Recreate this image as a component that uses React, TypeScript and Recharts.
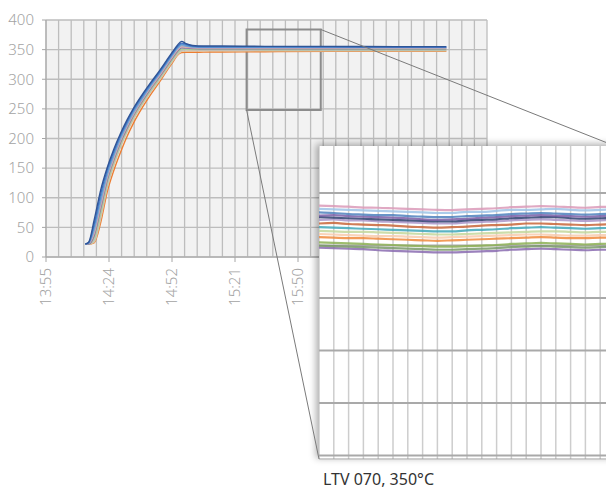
import React from 'react';
import { LineChart, Line, XAxis, YAxis, CartesianGrid, ReferenceArea, ReferenceLine } from 'recharts';

// ---------- Main chart data ----------
const timeLabels = ['13:55', '14:24', '14:52', '15:21', '15:50', '16:19', '16:47', '17:16'];
const majorTicks = [0, 28.8, 57.6, 86.4, 115.2, 144, 172.8, 201.6];
const minorTicks = Array.from({ length: 36 }, (_, i) => Math.round(i * 5.76 * 100) / 100);
const yTicks = [0, 50, 100, 150, 200, 250, 300, 350, 400];

// minutes since 13:55
const sampleTimes = [18, 19.5, 22, 25, 28, 31, 34, 37, 40, 44, 48, 52, 55, 58, 60, 62, 64, 67, 72, 80, 100, 130, 160, 183];

const s1 = [22, 25, 62, 113, 151, 182, 208, 231, 251, 274, 295, 315, 331, 347, 357, 364, 360, 357, 356, 356, 355.5, 355.5, 355, 355];
const s2 = [22, 24, 55, 106, 147, 178, 205, 228, 249, 272, 293, 313, 329, 345, 355, 361, 359, 356, 355, 355, 355, 354.8, 354.5, 354.5];
const s3 = [22, 24, 50, 99, 142, 174, 202, 225, 246, 269, 291, 311, 327, 343, 353, 359, 357, 355, 354, 354, 354, 354, 353.8, 353.8];
const s4 = [22, 23, 44, 92, 137, 170, 198, 222, 243, 267, 289, 309, 325, 341, 351, 357, 355.5, 354, 353.5, 353.5, 353.5, 353.3, 353, 353];
const s5 = [22, 23, 40, 87, 134, 167, 196, 220, 241, 265, 287, 307, 323, 339, 349, 355, 354, 353, 352.5, 352.5, 352.5, 352.5, 352.2, 352.2];
const s6 = [22, 22, 36, 82, 130, 164, 193, 217, 239, 263, 285, 305, 321, 337, 347, 353, 352.5, 352, 351.5, 351.5, 351.5, 351.5, 351.3, 351.3];
const s7 = [22, 22, 32, 76, 126, 161, 190, 215, 237, 261, 283, 303, 319, 335, 345, 351, 351, 350.5, 350.5, 350.5, 350.3, 350.3, 350, 350];
const s8 = [22, 22, 28, 71, 121, 158, 187, 213, 235, 259, 281, 301, 317, 333, 343, 349, 349.5, 349.5, 349.3, 349.3, 349.2, 349, 349, 349];
const s9 = [22, 22, 25, 65, 117, 154, 185, 210, 232, 257, 279, 299, 315, 331, 341, 347, 347.5, 348, 348, 348, 348, 348, 348, 348];
const s10 = [22, 22, 24, 58, 110, 146, 176, 203, 226, 252, 275, 296, 313, 329, 340, 345, 345.5, 345.5, 345.8, 346, 346.5, 347, 347, 347];

const mainSeries = [
  { key: 's10', color: '#ED7D31', values: s10 },
  { key: 's9', color: '#D9C7A3', values: s9 },
  { key: 's8', color: '#BDBDBD', values: s8 },
  { key: 's7', color: '#A9D18E', values: s7 },
  { key: 's6', color: '#8774A8', values: s6 },
  { key: 's5', color: '#E3AAAA', values: s5 },
  { key: 's4', color: '#8EA9C8', values: s4 },
  { key: 's3', color: '#5B9BD5', values: s3 },
  { key: 's2', color: '#4472C4', values: s2 },
  { key: 's1', color: '#2F5597', values: s1 },
];

const mainData = sampleTimes.map((t, i) => {
  const row: any = { t };
  mainSeries.forEach((s) => (row[s.key] = s.values[i]));
  return row;
});

// zoom window (data units of main chart)
const zoomBox = { t1: 91.7, t2: 125.6, v1: 248, v2: 384 };

// ---------- Inset data ----------
const insetX = Array.from({ length: 21 }, (_, i) => i);
const insetYTicks = [330, 335, 340, 345, 350, 355];

const i1 = [353.8, 353.75, 353.7, 353.62, 353.6, 353.55, 353.5, 353.45, 353.4, 353.38, 353.45, 353.5, 353.55, 353.65, 353.7, 353.75, 353.72, 353.65, 353.6, 353.68, 353.7];
const i2 = [353.5, 353.45, 353.4, 353.35, 353.3, 353.25, 353.2, 353.15, 353.1, 353.1, 353.2, 353.2, 353.3, 353.4, 353.4, 353.45, 353.5, 353.4, 353.35, 353.4, 353.45];
const i3 = [353.15, 353.1, 353.0, 352.95, 352.9, 352.9, 352.8, 352.75, 352.7, 352.72, 352.8, 352.85, 352.9, 353.0, 353.05, 353.1, 353.05, 353.0, 352.95, 353.0, 353.05];
const i4 = [352.85, 352.9, 352.8, 352.75, 352.7, 352.65, 352.6, 352.5, 352.45, 352.5, 352.55, 352.65, 352.7, 352.8, 352.85, 352.9, 352.85, 352.8, 352.75, 352.8, 352.85];
const i5 = [352.7, 352.65, 352.6, 352.55, 352.5, 352.45, 352.4, 352.35, 352.3, 352.3, 352.4, 352.45, 352.5, 352.6, 352.65, 352.7, 352.7, 352.6, 352.55, 352.6, 352.65];
const i6 = [352.45, 352.5, 352.4, 352.4, 352.3, 352.25, 352.2, 352.15, 352.1, 352.1, 352.2, 352.25, 352.3, 352.4, 352.45, 352.5, 352.45, 352.4, 352.35, 352.4, 352.45];
const i7 = [352.1, 352.15, 352.05, 352.0, 351.95, 351.9, 351.8, 351.75, 351.7, 351.75, 351.8, 351.9, 351.95, 352.0, 352.1, 352.1, 352.05, 352.0, 351.95, 352.0, 352.05];
const i8 = [351.75, 351.7, 351.65, 351.6, 351.55, 351.5, 351.45, 351.4, 351.35, 351.35, 351.45, 351.5, 351.55, 351.65, 351.7, 351.75, 351.7, 351.65, 351.6, 351.65, 351.7];
const i9 = [351.4, 351.35, 351.3, 351.3, 351.25, 351.2, 351.15, 351.1, 351.05, 351.05, 351.1, 351.15, 351.2, 351.25, 351.3, 351.35, 351.35, 351.3, 351.25, 351.3, 351.3];
const i10 = [351.1, 351.05, 351.0, 350.95, 350.9, 350.9, 350.85, 350.8, 350.75, 350.8, 350.85, 350.9, 350.95, 351.0, 351.05, 351.05, 351.0, 350.95, 350.95, 351.0, 351.0];
const i11 = [350.8, 350.75, 350.7, 350.7, 350.65, 350.6, 350.55, 350.5, 350.45, 350.5, 350.55, 350.6, 350.65, 350.7, 350.75, 350.8, 350.75, 350.7, 350.7, 350.75, 350.75];
const i12 = [350.3, 350.25, 350.2, 350.15, 350.1, 350.05, 350.0, 349.95, 349.9, 349.9, 349.95, 350.0, 350.05, 350.15, 350.2, 350.25, 350.2, 350.15, 350.1, 350.15, 350.2];
const i13 = [350.0, 349.95, 349.9, 349.85, 349.8, 349.75, 349.7, 349.65, 349.6, 349.6, 349.65, 349.7, 349.75, 349.85, 349.9, 349.95, 349.9, 349.85, 349.8, 349.85, 349.9];
const i14 = [349.8, 349.75, 349.7, 349.65, 349.55, 349.5, 349.45, 349.4, 349.35, 349.35, 349.4, 349.45, 349.5, 349.6, 349.65, 349.7, 349.65, 349.6, 349.55, 349.6, 349.6];

const insetSeries = [
  { key: 'i14', color: '#8A6BB0', values: i14 },
  { key: 'i13', color: '#7A9A6A', values: i13 },
  { key: 'i12', color: '#8DB255', values: i12 },
  { key: 'i11', color: '#F08A3C', values: i11 },
  { key: 'i10', color: '#F8CBAD', values: i10 },
  { key: 'i9', color: '#C4D79B', values: i9 },
  { key: 'i8', color: '#3FA7B8', values: i8 },
  { key: 'i7', color: '#C8663A', values: i7 },
  { key: 'i6', color: '#A995C9', values: i6 },
  { key: 'i5', color: '#2E3F70', values: i5 },
  { key: 'i4', color: '#7B5EA7', values: i4 },
  { key: 'i3', color: '#4F81BD', values: i3 },
  { key: 'i2', color: '#9DC3E6', values: i2 },
  { key: 'i1', color: '#DB9AB8', values: i1 },
];

const insetData = insetX.map((x, i) => {
  const row: any = { x };
  insetSeries.forEach((s) => (row[s.key] = s.values[i]));
  return row;
});

const caption = 'LTV 070, 350°C';

// ---------- Layout ----------
const MAIN = { left: 46, top: 20, plotW: 441, plotH: 237, right: 23, bottom: 73 };
const X_DOMAIN: [number, number] = [0, 201.6];
const Y_DOMAIN: [number, number] = [0, 400];
const INSET = { left: 319, top: 146, plotW: 296, plotH: 313 };
const INSET_X_DOMAIN: [number, number] = [0, 20];
const INSET_Y_DOMAIN: [number, number] = [329.67, 359.48];

const mainPx = (t: number) => MAIN.left + ((t - X_DOMAIN[0]) / (X_DOMAIN[1] - X_DOMAIN[0])) * MAIN.plotW;
const mainPy = (v: number) => MAIN.top + ((Y_DOMAIN[1] - v) / (Y_DOMAIN[1] - Y_DOMAIN[0])) * MAIN.plotH;

const FONT = '"Noto Sans", "Open Sans", sans-serif';
const LABEL = '#a3a3a3';

const XTick = (props: any) => {
  const { x, y, payload } = props;
  const idx = majorTicks.indexOf(payload.value);
  const label = idx >= 0 ? timeLabels[idx] : '';
  return (
    <text
      x={x}
      y={y}
      transform={`rotate(-90, ${x}, ${y})`}
      textAnchor="end"
      dy="0.35em"
      fill={LABEL}
      fontSize={15}
      fontFamily={FONT}
      fontWeight={300}
    >
      {label}
    </text>
  );
};

export default function App() {
  const topFrom = { x: mainPx(zoomBox.t2), y: mainPy(zoomBox.v2) };
  const botFrom = { x: mainPx(zoomBox.t1), y: mainPy(zoomBox.v1) };
  const topTo = { x: INSET.left + INSET.plotW, y: INSET.top };
  const botTo = { x: INSET.left, y: INSET.top + INSET.plotH };

  return (
    <div
      style={{
        position: 'fixed',
        left: 0,
        top: 0,
        width: 606,
        height: 491,
        overflow: 'hidden',
        background: '#ffffff',
      }}
    >
      <div style={{ position: 'absolute', left: 0, top: 0 }}>
        <LineChart
          width={MAIN.left + MAIN.plotW + MAIN.right}
          height={MAIN.top + MAIN.plotH + MAIN.bottom}
          data={mainData}
          margin={{ top: MAIN.top, right: MAIN.right, left: 0, bottom: 13 }}
        >
          <CartesianGrid
            fill="#f2f2f2"
            stroke="#bdbdbd"
            strokeWidth={1.3}
            verticalValues={minorTicks}
            horizontalValues={yTicks}
          />
          <XAxis
            type="number"
            dataKey="t"
            domain={X_DOMAIN}
            ticks={majorTicks}
            interval={0}
            allowDataOverflow
            height={60}
            tickSize={5}
            tickMargin={6}
            stroke="#a6a6a6"
            tick={(p: any) => <XTick {...p} />}
          />
          <YAxis
            type="number"
            domain={Y_DOMAIN}
            ticks={yTicks}
            interval={0}
            width={MAIN.left}
            tickSize={4}
            tickMargin={8}
            stroke="#a6a6a6"
            tick={{ fill: LABEL, fontSize: 15, fontFamily: FONT, fontWeight: 300 }}
          />
          {mainSeries.map((s) => (
            <Line
              key={s.key}
              dataKey={s.key}
              type="monotone"
              stroke={s.color}
              strokeWidth={1.4}
              dot={false}
              isAnimationActive={false}
            />
          ))}
          <ReferenceArea
            x1={zoomBox.t1}
            x2={zoomBox.t2}
            y1={zoomBox.v1}
            y2={zoomBox.v2}
            fill="none"
            fillOpacity={0}
            stroke="#8c8c8c"
            strokeWidth={2}
          />
        </LineChart>
      </div>

      <div
        style={{
          position: 'absolute',
          left: INSET.left,
          top: INSET.top,
          width: INSET.plotW,
          height: INSET.plotH + 1,
          background: '#ffffff',
          boxShadow: '-3px -2px 7px rgba(0,0,0,0.32)',
        }}
      >
        <LineChart
          width={INSET.plotW}
          height={INSET.plotH + 1}
          data={insetData}
          margin={{ top: 0, right: 0, left: 0, bottom: 0 }}
        >
          <XAxis
            type="number"
            dataKey="x"
            domain={INSET_X_DOMAIN}
            ticks={insetX}
            interval={0}
            tick={false}
            tickLine={false}
            height={1}
            stroke="#9a9a9a"
          />
          <YAxis type="number" domain={INSET_Y_DOMAIN} ticks={insetYTicks} allowDataOverflow hide />
          {insetX.map((x) => (
            <ReferenceLine key={`vx${x}`} x={x} stroke="#cdcdcd" strokeWidth={1.5} />
          ))}
          {insetYTicks.map((v) => (
            <ReferenceLine key={`hy${v}`} y={v} stroke="#a9a9a9" strokeWidth={2} />
          ))}
          {insetSeries.map((s) => (
            <Line
              key={s.key}
              dataKey={s.key}
              type="monotone"
              stroke={s.color}
              strokeWidth={2.2}
              strokeOpacity={0.85}
              dot={false}
              isAnimationActive={false}
            />
          ))}
        </LineChart>
      </div>

      <svg
        width={606}
        height={491}
        style={{ position: 'absolute', left: 0, top: 0, pointerEvents: 'none' }}
      >
        <line x1={topFrom.x} y1={topFrom.y} x2={topTo.x} y2={topTo.y} stroke="#7a7a7a" strokeWidth={1} />
        <line x1={botFrom.x} y1={botFrom.y} x2={botTo.x} y2={botTo.y} stroke="#7a7a7a" strokeWidth={1} />
      </svg>

      <div
        style={{
          position: 'absolute',
          left: 323,
          top: 470,
          fontFamily: FONT,
          fontSize: 16,
          lineHeight: '18px',
          color: '#333333',
          whiteSpace: 'nowrap',
        }}
      >
        {caption}
      </div>
    </div>
  );
}
